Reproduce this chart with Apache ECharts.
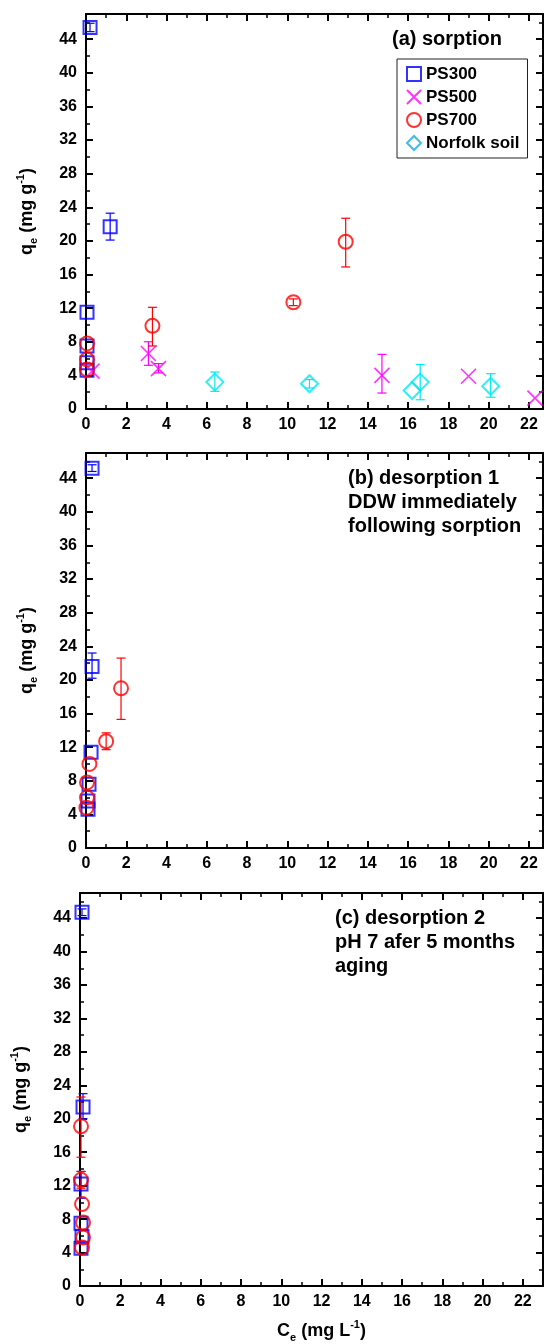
<!DOCTYPE html>
<html><head><meta charset="utf-8">
<script src="https://cdn.jsdelivr.net/npm/echarts@6/dist/echarts.min.js"></script>
<style>html,body{margin:0;padding:0;background:#fff}#c{width:546px;height:1344px}</style>
</head><body><div id="c"></div>
<script>
// ---- data: [Ce, qe, errLow, errHigh] ----
const ps300A = [[0.05,4.6],[0.05,5.5],[0.05,7.5],[0.05,11.5],[1.2,21.7,20.1,23.3],[0.2,45.4,44.9,45.9]];
const ps500A = [[0.3,4.5],[3.1,6.6,5.2,8.0],[3.6,4.8,4.3,5.4],[14.7,4.0,1.9,6.5],[19.0,3.9],[22.3,1.3]];
const ps700A = [[0.05,4.7],[0.05,5.9],[0.05,7.8],[3.3,9.9,7.5,12.1],[10.3,12.7,12.3,13.1],[12.9,19.9,16.9,22.7]];
const soilA  = [[6.4,3.2,2.1,4.4],[11.1,3.0,2.5,3.5],[16.2,2.2],[16.6,3.2,1.1,5.3],[20.1,2.7,1.4,4.2]];
const ps300B = [[0.1,4.6],[0.1,5.6],[0.15,7.6],[0.25,11.4],[0.3,21.6,20.2,23.2],[0.3,45.2,44.8,45.6]];
const ps700B = [[0.02,4.8],[0.05,6.0],[0.05,7.8],[0.17,10.0],[1.0,12.7,11.7,13.7],[1.74,19.0,15.3,22.6]];
const ps300C = [[0.05,4.5],[0.1,5.9],[0.05,7.5],[0.05,12.2,10.5,13.7],[0.15,21.4,20.0,23.0],[0.1,44.7,44.3,45.1]];
const ps700C = [[0.1,4.6],[0.15,5.8],[0.15,7.6],[0.1,9.8],[0.05,12.7,11.7,13.7],[0.05,19.1,15.4,22.6]];
const xMaxes = [22.7, 22.7, 23];
const yMax = 47;
const panelTitles = ['(a) sorption', '(b) desorption 1\nDDW immediately\nfollowing sorption', '(c) desorption 2\npH 7 afer 5 months\naging'];
const seriesNames = ['PS300','PS500','PS700','Norfolk soil'];

const FONT = "'Liberation Sans', Arial, sans-serif";
const grids = [
  {left:86, top:14, width:457, height:395},
  {left:86, top:453, width:457, height:395},
  {left:80, top:893, width:463, height:395}
];
const xAxes = [], yAxes = [];
const lbl = {color:'#000', fontSize:16, fontWeight:'bold', fontFamily:FONT};
const rich = {
  a:{fontSize:18,fontWeight:'bold',fontFamily:FONT,color:'#000',lineHeight:24},
  s:{fontSize:11,fontWeight:'bold',fontFamily:FONT,color:'#000',lineHeight:24,verticalAlign:'bottom'},
  p:{fontSize:11,fontWeight:'bold',fontFamily:FONT,color:'#000',lineHeight:24,verticalAlign:'top'}
};
grids.forEach((g, gi) => {
  const mk = (pos, major, isX) => {
    const ax = {
      type:'value', gridIndex:gi, position:pos, min:0, max: isX ? xMaxes[gi] : yMax,
      interval: isX ? (major ? 2 : 1) : (major ? 4 : 2),
      splitLine:{show:false},
      axisLine:{show:major, onZero:false, lineStyle:{color:'#000', width:2}},
      axisTick:{show:true, inside:true, length: major ? 7 : 4, lineStyle:{color:'#000', width: major ? 2 : 1.5}},
      axisLabel:{show:false}
    };
    if (major && (pos === 'bottom' || pos === 'left')) {
      ax.axisLabel = Object.assign({show:true, showMaxLabel:false, margin: pos==='bottom' ? 8 : 9}, lbl);
    }
    return ax;
  };
  xAxes.push(mk('bottom', true, true), mk('bottom', false, true), mk('top', true, true), mk('top', false, true));
  yAxes.push(mk('left', true, false), mk('left', false, false), mk('right', true, false), mk('right', false, false));
  const yl = yAxes[gi*4];
  yl.name = '{a|q}{s|e}{a| (mg g}{p|-1}{a|)}';
  yl.nameLocation = 'middle'; yl.nameRotate = 90; yl.nameGap = 47;
  yl.nameTextStyle = {rich: rich};
  if (gi === 2) {
    const xb = xAxes[gi*4];
    xb.name = '{a|C}{s|e}{a| (mg L}{p|-1}{a|)}';
    xb.nameLocation = 'middle'; xb.nameGap = 33;
    xb.nameTextStyle = {rich: rich, padding:[0,0,0,20]};
  }
});

const styles = {
  'PS300': {symbol:'rect', size:13, color:'#0000ff', bw:2},
  'PS500': {symbol:'path://M0,0L10,10M10,0L0,10', size:15, color:'#ff00ff', bw:1.6},
  'PS700': {symbol:'circle', size:14, color:'#ff0000', bw:2},
  'Norfolk soil': {symbol:'diamond', size:17, color:'#00e8f4', bw:2}
};
const series = [];
function addSeries(name, data, gi) {
  const st = styles[name];
  const errs = data.filter(d => d.length === 4);
  series.push({
    type:'custom', name: name + ' err', xAxisIndex: gi*4, yAxisIndex: gi*4, silent:true,
    data: errs.map(d => [d[0], d[2], d[3]]),
    renderItem: (params, api) => {
      const lo = api.coord([api.value(0), api.value(1)]);
      const hi = api.coord([api.value(0), api.value(2)]);
      const w = 4.5;
      const ls = {stroke: st.color, lineWidth: 1.2};
      return {type:'group', children:[
        {type:'line', shape:{x1:lo[0], y1:lo[1], x2:hi[0], y2:hi[1]}, style:ls},
        {type:'line', shape:{x1:lo[0]-w, y1:lo[1], x2:lo[0]+w, y2:lo[1]}, style:ls},
        {type:'line', shape:{x1:hi[0]-w, y1:hi[1], x2:hi[0]+w, y2:hi[1]}, style:ls}
      ]};
    },
    z: 2
  });
  series.push({
    type:'scatter', name: name, xAxisIndex: gi*4, yAxisIndex: gi*4,
    symbol: st.symbol, symbolSize: st.size,
    itemStyle:{color:'transparent', borderColor: st.color, borderWidth: st.bw},
    data: data.map(d => [d[0], d[1]]), z: 3
  });
}
addSeries('PS300', ps300A, 0);
addSeries('PS500', ps500A, 0);
addSeries('PS700', ps700A, 0);
addSeries('Norfolk soil', soilA, 0);
addSeries('PS300', ps300B, 1);
addSeries('PS700', ps700B, 1);
addSeries('PS300', ps300C, 2);
addSeries('PS700', ps700C, 2);

const titleBox = [{left:392, top:27}, {left:348, top:466}, {left:335, top:906}];
const chart = echarts.init(document.getElementById('c'), null, {renderer:'canvas'});
chart.setOption({
  animation:false,
  backgroundColor:'#fff',
  title: panelTitles.map((t, i) => ({
    text: t, left: titleBox[i].left, top: titleBox[i].top, padding:0,
    textStyle:{fontSize:20, fontWeight:'bold', fontFamily:FONT, color:'#000', lineHeight:24}
  })),
  legend: {
    orient:'vertical', left:397, top:59,
    backgroundColor:'#fff', borderColor:'#222', borderWidth:1,
    padding:[6,8,6,9], itemGap:5, itemWidth:14, itemHeight:14,
    textStyle:{fontSize:17, fontWeight:'bold', fontFamily:FONT, color:'#000', lineHeight:18},
    data: seriesNames.map(n => n === 'Norfolk soil'
      ? {name:n, itemStyle:{borderColor:'#10a8e6'}} : {name:n})
  },
  grid: grids, xAxis: xAxes, yAxis: yAxes, series: series
});
</script>
</body></html>
